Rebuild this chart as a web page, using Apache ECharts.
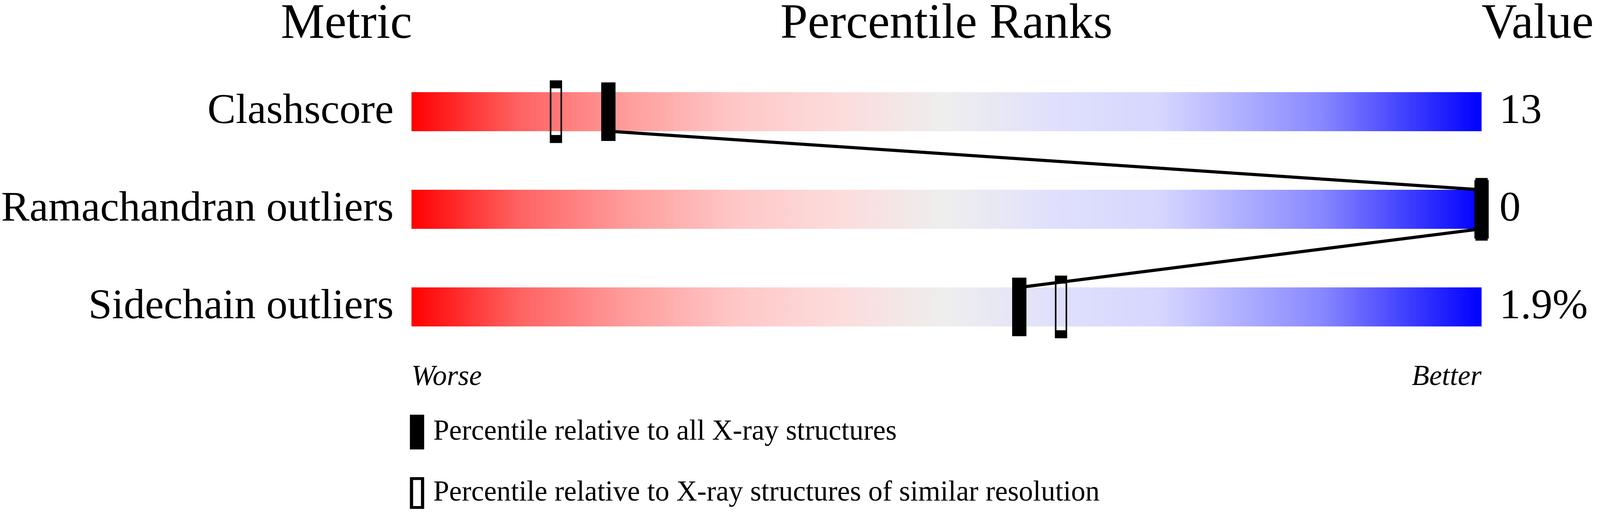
<!DOCTYPE html>
<html>
<head>
<meta charset="utf-8">
<script src="https://cdn.jsdelivr.net/npm/echarts@6/dist/echarts.min.js"></script>
<style>
  html, body { margin: 0; padding: 0; background: #ffffff; overflow: hidden; }
  #chart { width: 100vw; height: 100vh; }
</style>
</head>
<body>
<div id="chart"></div>
<script>
// ---- data ----
var metrics = ['Clashscore', 'Ramachandran outliers', 'Sidechain outliers'];
var valueLabels = ['13', '0', '1.9%'];
var pctAll = [18.4, 100, 56.8];          // percentile relative to all X-ray structures
var pctSimilar = [13.5, 100, 60.7];      // percentile relative to similar resolution
var barFull = [100, 100, 100];
var endLabels = ['Worse', 'Better'];
var headers = ['Metric', 'Percentile Ranks', 'Value'];
var legendNames = ['Percentile relative to all X-ray structures',
                   'Percentile relative to X-ray structures of similar resolution'];

// ---- layout (reference pixel units, scaled to the actual viewport) ----
var W0 = 4485, H0 = 1324;
var W = window.innerWidth, H = window.innerHeight;
var sx = W / W0, sy = H / H0, sf = Math.min(sx, sy);
function SX(v) { return v * sx; }
function SY(v) { return v * sy; }
function SF(v) { return v * sf; }
var FONT = "'Liberation Serif', 'Times New Roman', serif";

// distance from the canvas 'middle' baseline to the alphabetic baseline
function midToBase(fsPx, style) {
  var c = document.createElement('canvas').getContext('2d');
  c.font = (style ? style + ' ' : '') + fsPx + 'px ' + FONT;
  c.textBaseline = 'alphabetic';
  var a = c.measureText('H').actualBoundingBoxAscent;
  c.textBaseline = 'middle';
  var m = c.measureText('H').actualBoundingBoxAscent;
  return a - m;
}

var gridLeft = SX(1153), gridWidth = SX(3000), gridTop = SY(161), gridHeight = SY(750);
var barH = SY(100);

var labelFs = SF(119);
var labelPadTop = Math.max(0, 2 * (SY(50) - midToBase(labelFs, '')));

var headerFs = SF(138);
var headerY = SY(97) - midToBase(headerFs, '');

var endFs = SF(80);
var endMargin = SY(986) - (gridTop + gridHeight) - midToBase(endFs, 'italic');

var legFs = SF(80);
var legPadTop = Math.max(0, 2 * (SY(39.5) - midToBase(legFs, '')));

var gradient = new echarts.graphic.LinearGradient(0, 0, 1, 0, [
  { offset: 0.00, color: '#ff0000' },
  { offset: 0.10, color: '#ff6262' },
  { offset: 0.20, color: '#ff9c9c' },
  { offset: 0.30, color: '#ffc6c6' },
  { offset: 0.40, color: '#fcdcdc' },
  { offset: 0.50, color: '#eeeeee' },
  { offset: 0.60, color: '#e0e0fc' },
  { offset: 0.70, color: '#d6d6ff' },
  { offset: 0.85, color: '#8888ff' },
  { offset: 1.00, color: '#0000ff' }
]);

var segments = [];
for (var i = 0; i < pctAll.length - 1; i++) {
  segments.push([pctAll[i], i, pctAll[i + 1], i + 1]);
}

var chart = echarts.init(document.getElementById('chart'), null, { renderer: 'canvas' });

var option = {
  animation: false,
  backgroundColor: '#ffffff',
  grid: { left: gridLeft, top: gridTop, width: gridWidth, height: gridHeight, containLabel: false },
  xAxis: {
    type: 'value', min: 0, max: 100, interval: 100,
    axisLine: { show: false }, axisTick: { show: false }, splitLine: { show: false },
    axisLabel: {
      show: true, margin: endMargin, verticalAlign: 'middle',
      fontFamily: FONT, fontStyle: 'italic', fontSize: endFs, color: '#000',
      alignMinLabel: 'left', alignMaxLabel: 'right',
      formatter: function (v) { return v === 0 ? endLabels[0] : endLabels[1]; }
    }
  },
  yAxis: [{
    type: 'category', data: metrics, inverse: true, position: 'left',
    axisLine: { show: false }, axisTick: { show: false }, splitLine: { show: false },
    axisLabel: { margin: SX(50), fontFamily: FONT, fontSize: labelFs, color: '#000', padding: [labelPadTop, 0, 0, 0] }
  }, {
    type: 'category', data: metrics, inverse: true, position: 'right',
    axisLine: { show: false }, axisTick: { show: false }, splitLine: { show: false },
    axisLabel: {
      margin: SX(50), fontFamily: FONT, fontSize: labelFs, color: '#000', padding: [labelPadTop, 0, 0, 0],
      formatter: function (v, idx) { return valueLabels[idx]; }
    }
  }],
  legend: {
    orient: 'vertical', left: SX(1149), top: SY(1062), padding: 0,
    itemWidth: SX(40), itemHeight: SY(89), itemGap: SY(71),
    selectedMode: false,
    textStyle: { fontFamily: FONT, fontSize: legFs, color: '#000', padding: [legPadTop, 0, 0, SX(20)] },
    data: [
      { name: legendNames[0], icon: 'rect', itemStyle: { color: '#000', borderWidth: 0 } },
      { name: legendNames[1], icon: 'path://M0,0H40V89H0Z M9,8V81H31V8Z', itemStyle: { color: '#000', borderWidth: 0 } }
    ]
  },
  graphic: [
    { type: 'text', x: gridLeft + SX(2), y: headerY, style: { text: headers[0], font: headerFs + 'px ' + FONT, fill: '#000', align: 'right', verticalAlign: 'middle' } },
    { type: 'text', x: gridLeft + gridWidth / 2, y: headerY, style: { text: headers[1], font: headerFs + 'px ' + FONT, fill: '#000', align: 'center', verticalAlign: 'middle' } },
    { type: 'text', x: gridLeft + gridWidth, y: headerY, style: { text: headers[2], font: headerFs + 'px ' + FONT, fill: '#000', align: 'left', verticalAlign: 'middle' } }
  ],
  series: [
    {
      name: 'range', type: 'bar', data: barFull, barWidth: barH, yAxisIndex: 0,
      itemStyle: { color: gradient }, silent: true, z: 1
    },
    {
      name: 'connector', type: 'custom', yAxisIndex: 0, data: segments, silent: true, z: 2,
      renderItem: function (params, api) {
        var a = api.coord([api.value(0), api.value(1)]);
        var b = api.coord([api.value(2), api.value(3)]);
        return {
          type: 'line',
          shape: { x1: a[0], y1: a[1] + barH / 2, x2: b[0], y2: b[1] - barH / 2 },
          style: { stroke: '#000', lineWidth: SF(9) }
        };
      }
    },
    {
      name: legendNames[1], type: 'scatter', yAxisIndex: 0, z: 3,
      data: pctSimilar.map(function (p, i) { return [p, i]; }),
      symbol: 'rect', symbolSize: [SX(30), SY(140)],
      itemStyle: { color: 'rgba(0,0,0,0)', borderColor: '#000', borderWidth: SF(10), opacity: 1 }
    },
    {
      name: legendNames[0], type: 'scatter', yAxisIndex: 0, z: 4,
      data: pctAll.map(function (p, i) { return [p, i]; }),
      symbol: 'rect', symbolSize: [SX(40), SY(150)],
      itemStyle: { color: '#000', opacity: 1 }
    }
  ]
};
chart.setOption(option);
</script>
</body>
</html>
